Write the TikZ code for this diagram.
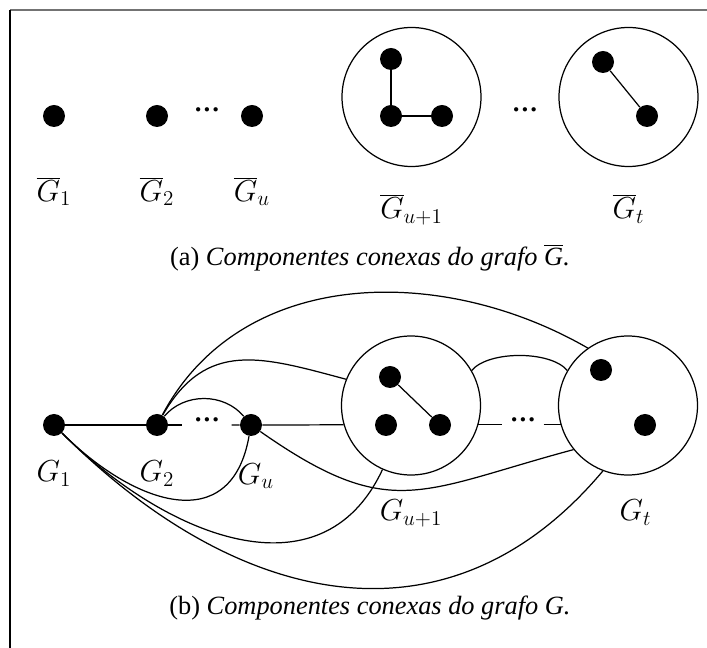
\documentclass[tikz,border=0pt]{standalone}
\usepackage{fontspec}
\setmainfont{Liberation Serif}
\usetikzlibrary{positioning}
\tikzset{
 vert/.style={circle, fill=black, inner sep=0pt, minimum size=0.44cm},
 comp/.style={circle, draw, line width=0.7pt, minimum size=2.78cm, inner sep=0pt},
 lbl/.style={font=\fontsize{16.5}{18}\selectfont, inner sep=1pt},
 capt/.style={font=\fontsize{15}{17}\selectfont},
 gap/.style={inner ysep=0pt, font=\fontsize{15}{15}\selectfont\bfseries},
 edge/.style={line width=0.7pt},
 frame/.style={line width=0.9pt}
}

\begin{document}
\begin{tikzpicture}[node distance=0.9cm]
\useasboundingbox (0,0) rectangle (14.14,12.96);
\coordinate (tl) at (0.2,12.76);
\coordinate (tr) at (14.14,12.76);
\coordinate (bl) at (0.2,0);
\draw[frame, black!55] (tr) -- (tl);
\draw[frame] (tl) -- (bl);

% (a)
\node[vert] (a1) at (1.08,10.64) {};
\node[vert] (a2) at (3.14,10.64) {};
\node[vert] (au) at (5.04,10.64) {};
\node[gap] (adots1) at (4.14,10.7) {···};
\node[comp] (acu) at (8.23,11.02) {};
\node[comp] (act) at (12.57,11.02) {};
\node[gap] (adots2) at (10.5,10.7) {···};
\node[vert] (acu1) at (7.82,11.78) {};
\node[vert] (acu2) at (7.82,10.64) {};
\node[vert] (acu3) at (8.84,10.64) {};
\node[vert] (act1) at (12.06,11.72) {};
\node[vert] (act2) at (12.94,10.64) {};
\draw[edge] (acu1) -- (acu2) -- (acu3);
\draw[edge] (act1) -- (act2);
\node[lbl, below=0.95cm of a1] (la1) {$\overline{G}_1$};
\node[lbl, below=0.95cm of a2] (la2) {$\overline{G}_2$};
\node[lbl, below=0.95cm of au] (lau) {$\overline{G}_u$};
\node[lbl, below=0.5cm of acu] (lacu) {$\overline{G}_{u+1}$};
\node[lbl, below=0.5cm of act] (lact) {$\overline{G}_t$};
\node[capt] (capa) at (7.4,7.8) {(a) \textit{Componentes conexas do grafo} $\overline{\mbox{\textit{G}}}$\textit{.}};

% (b)
\node[vert] (g1) at (1.08,4.46) {};
\node[vert] (g2) at (3.14,4.46) {};
\node[vert] (gu) at (5.02,4.46) {};
\node[gap, inner xsep=0.22cm] (bdots1) at (4.14,4.5) {···};
\node[comp] (cu) at (8.22,4.85) {};
\node[comp] (ct) at (12.56,4.85) {};
\node[gap, inner xsep=0.14cm] (bdots2) at (10.46,4.5) {···};
\node[vert] (cu1) at (7.8,5.42) {};
\node[vert] (cu2) at (7.72,4.46) {};
\node[vert] (cu3) at (8.8,4.46) {};
\node[vert] (ct1) at (12.02,5.56) {};
\node[vert] (ct2) at (12.9,4.46) {};
\draw[edge] (cu1) -- (cu3);
\draw[edge] (g1) -- (g2) -- (g2 -| bdots1.west);
\draw[edge] (bdots1.east |- gu) -- (gu) -- (cu.196);
\draw[edge] (cu.-16) -- (cu.-16 -| bdots2.west);
\draw[edge] (bdots2.east |- ct.196) -- (ct.196);
\draw[edge] (g2) to[out=50,in=130] (gu);
\draw[edge] (g2) to[out=60,in=165,looseness=1.2] (cu.158);
\draw[edge] (g2) to[out=62,in=150] (ct.125);
\draw[edge] (cu.30) to[out=50,in=130,looseness=0.7] (ct.150);
\draw[edge] (g1) to[out=-45,in=-100,looseness=1.4] (gu);
\draw[edge] (g1) to[out=-45,in=-115,looseness=1.15] (cu.246);
\draw[edge] (g1) to[out=-45,in=-130,looseness=1.15] (ct.249);
\draw[edge] (gu) to[out=-35,in=-165,looseness=1.3] (ct.219);
\node[lbl, below=0.45cm of g1] (lg1) {$G_1$};
\node[lbl, below=0.45cm of g2] (lg2) {$G_2$};
\node[lbl, below=0.5cm of gu, xshift=0.1cm] (lgu) {$G_u$};
\node[lbl, below=0.45cm of cu] (lcu) {$G_{u+1}$};
\node[lbl, below=0.45cm of ct, xshift=0.15cm] (lct) {$G_t$};
\node[capt] (capb) at (7.4,0.8) {(b) \textit{Componentes conexas do grafo G.}};
\end{tikzpicture}
\end{document}
